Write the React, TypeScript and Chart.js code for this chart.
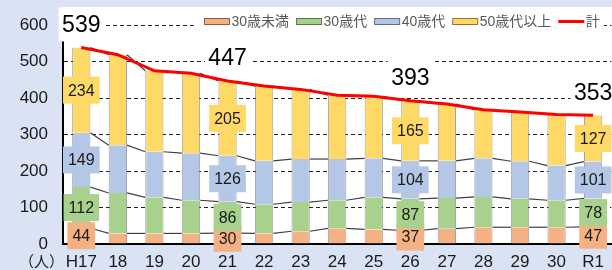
import React, { useEffect, useRef } from 'react';
import { Chart, registerables } from 'chart.js';

Chart.register(...registerables);

// ---- data ----
const categories = ['H17', '18', '19', '20', '21', '22', '23', '24', '25', '26', '27', '28', '29', '30', 'R1'];
const under30 = [44, 29, 29, 29, 30, 29, 35, 43, 40, 37, 42, 46, 46, 46, 47];
const thirties = [112, 111, 99, 91, 86, 80, 80, 77, 88, 87, 84, 83, 78, 74, 78];
const forties = [149, 131, 125, 129, 126, 119, 118, 113, 107, 104, 102, 106, 103, 95, 101];
const fiftiesPlus = [234, 248, 222, 219, 205, 205, 191, 175, 170, 165, 156, 133, 135, 140, 127];
const totals = [539, 519, 475, 468, 447, 433, 424, 408, 405, 393, 384, 368, 362, 355, 353];
const seriesNames = ['30歳未満', '30歳代', '40歳代', '50歳代以上', '計'];
const labeledIndices = [0, 4, 9, 14];
const yMin = 0;
const yMax = 600;
const yStep = 100;
const unitLabel = '（人）';

// ---- style ----
const FONT = "'Liberation Sans', 'Noto Sans CJK JP', Arial, sans-serif";
const barColors = ['#f4b183', '#a9d18e', '#b4c7e7', '#ffd966'];
const lineColor = '#ff0000';
const BG = '#dae3f3';
const TEXT = '#1a1a1a';

const bgPlugin = {
  id: 'bgPlugin',
  beforeDraw(chart: any) {
    const { ctx, chartArea } = chart;
    ctx.save();
    ctx.fillStyle = BG;
    ctx.fillRect(0, 0, chart.width, chart.height);
    ctx.fillStyle = '#ffffff';
    ctx.fillRect(chartArea.left - 1, 7, chart.width - chartArea.left + 1, chartArea.bottom - 7);
    ctx.restore();
  },
};

const seriesLinesPlugin = {
  id: 'seriesLines',
  beforeDatasetDraw(chart: any, args: any) {
    if (args.index !== 4) return;
    const { ctx } = chart;
    ctx.save();
    ctx.strokeStyle = '#404040';
    ctx.lineWidth = 1.2;
    for (let d = 0; d < 4; d++) {
      const meta = chart.getDatasetMeta(d);
      for (let j = 0; j < meta.data.length - 1; j++) {
        const a = meta.data[j];
        const b = meta.data[j + 1];
        ctx.beginPath();
        ctx.moveTo(a.x + a.width / 2, a.y);
        ctx.lineTo(b.x - b.width / 2, b.y);
        ctx.stroke();
      }
    }
    ctx.restore();
  },
};

const labelsPlugin = {
  id: 'valueLabels',
  afterDatasetsDraw(chart: any) {
    const { ctx } = chart;
    ctx.save();
    ctx.textAlign = 'center';
    ctx.textBaseline = 'middle';
    labeledIndices.forEach((idx) => {
      for (let d = 0; d < 4; d++) {
        const meta = chart.getDatasetMeta(d);
        const el = meta.data[idx];
        const v = chart.data.datasets[d].data[idx];
        const text = String(v);
        ctx.font = `16px ${FONT}`;
        const w = ctx.measureText(text).width + 10;
        const h = 27;
        const cy = (el.y + el.base) / 2;
        ctx.fillStyle = barColors[d];
        ctx.fillRect(el.x - w / 2, cy - h / 2, w, h);
        ctx.fillStyle = TEXT;
        ctx.fillText(text, el.x, cy + 1);
      }
      const lm = chart.getDatasetMeta(4);
      const pt = lm.data[idx];
      const t = String(chart.data.datasets[4].data[idx]);
      ctx.font = `23px ${FONT}`;
      const tw = ctx.measureText(t).width + 7;
      const cy = pt.y - 23;
      ctx.fillStyle = '#ffffff';
      ctx.fillRect(pt.x - tw / 2, cy - 17, tw, 34);
      ctx.fillStyle = '#000000';
      ctx.fillText(t, pt.x, cy + 1);
    });
    ctx.restore();
  },
};

const legendPlugin = {
  id: 'customLegend',
  afterDraw(chart: any) {
    const { ctx } = chart;
    ctx.save();
    ctx.fillStyle = '#ffffff';
    ctx.fillRect(196, 10, 408, 22);
    ctx.font = `14px ${FONT}`;
    ctx.textBaseline = 'middle';
    ctx.textAlign = 'left';
    const cy = 21.5;
    let x = 204;
    seriesNames.forEach((name, i) => {
      if (i < 4) {
        ctx.fillStyle = barColors[i];
        ctx.fillRect(x, cy - 3.5, 26, 7);
        ctx.strokeStyle = 'rgba(0,0,0,0.45)';
        ctx.lineWidth = 1;
        ctx.strokeRect(x + 0.5, cy - 3.5 + 0.5, 25, 6);
      } else {
        ctx.strokeStyle = lineColor;
        ctx.lineWidth = 3;
        ctx.beginPath();
        ctx.moveTo(x, cy);
        ctx.lineTo(x + 26, cy);
        ctx.stroke();
      }
      x += 27.5;
      ctx.fillStyle = '#595959';
      ctx.fillText(name, x, cy + 0.5);
      x += ctx.measureText(name).width + 7;
    });
    // unit label
    ctx.font = `15px ${FONT}`;
    ctx.fillStyle = TEXT;
    ctx.textAlign = 'right';
    ctx.fillText(unitLabel, chart.chartArea.left + 1, 263);
    ctx.restore();
  },
};

export default function App() {
  const ref = useRef<HTMLCanvasElement>(null);
  useEffect(() => {
    const canvas = ref.current;
    if (!canvas) return;
    const barDs = (label: string, data: number[], i: number) => ({
      type: 'bar' as const,
      label,
      data,
      backgroundColor: barColors[i],
      borderColor: 'rgba(90,90,90,0.55)',
      borderWidth: { left: 1, right: 1, top: 0, bottom: 0 },
      borderSkipped: false,
      stack: 'ages',
      order: 1,
      categoryPercentage: 0.5,
      barPercentage: 1,
    });
    const chart = new Chart(canvas, {
      type: 'bar',
      data: {
        labels: categories,
        datasets: [
          barDs(seriesNames[0], under30, 0),
          barDs(seriesNames[1], thirties, 1),
          barDs(seriesNames[2], forties, 2),
          barDs(seriesNames[3], fiftiesPlus, 3),
          {
            type: 'line' as const,
            label: seriesNames[4],
            data: totals,
            borderColor: lineColor,
            backgroundColor: lineColor,
            borderWidth: 3,
            pointRadius: 0,
            tension: 0,
            stack: 'total',
            order: 0,
          } as any,
        ],
      },
      options: {
        animation: false,
        responsive: false,
        maintainAspectRatio: false,
        layout: { padding: { top: 19, right: 0, left: 0, bottom: 0 } },
        plugins: {
          legend: { display: false },
          tooltip: { enabled: false },
        },
        scales: {
          x: {
            stacked: true,
            grid: { display: false, drawTicks: false },
            border: { color: '#000', width: 2 },
            ticks: {
              font: { size: 17, family: FONT },
              color: TEXT,
              padding: 8,
              maxRotation: 0,
              autoSkip: false,
            },
            afterFit: (s: any) => {
              s.height = 26;
            },
          },
          y: {
            stacked: true,
            min: yMin,
            max: yMax,
            ticks: {
              stepSize: yStep,
              font: { size: 17, family: FONT },
              color: TEXT,
              padding: 15,
            },
            grid: {
              color: (c: any) => (c.tick && c.tick.value === 0 ? 'rgba(0,0,0,0)' : '#222'),
              lineWidth: 1,
              drawTicks: false,
            },
            border: { color: '#000', width: 2, dash: [4, 3] },
            afterFit: (s: any) => {
              s.width = 63;
            },
          },
        },
      } as any,
      plugins: [bgPlugin, seriesLinesPlugin, labelsPlugin, legendPlugin],
    });
    return () => chart.destroy();
  }, []);

  return (
    <div style={{ position: 'fixed', left: 0, top: 0, width: 612, height: 270 }}>
      <canvas ref={ref} width={612} height={270} style={{ display: 'block', width: 612, height: 270 }} />
    </div>
  );
}
